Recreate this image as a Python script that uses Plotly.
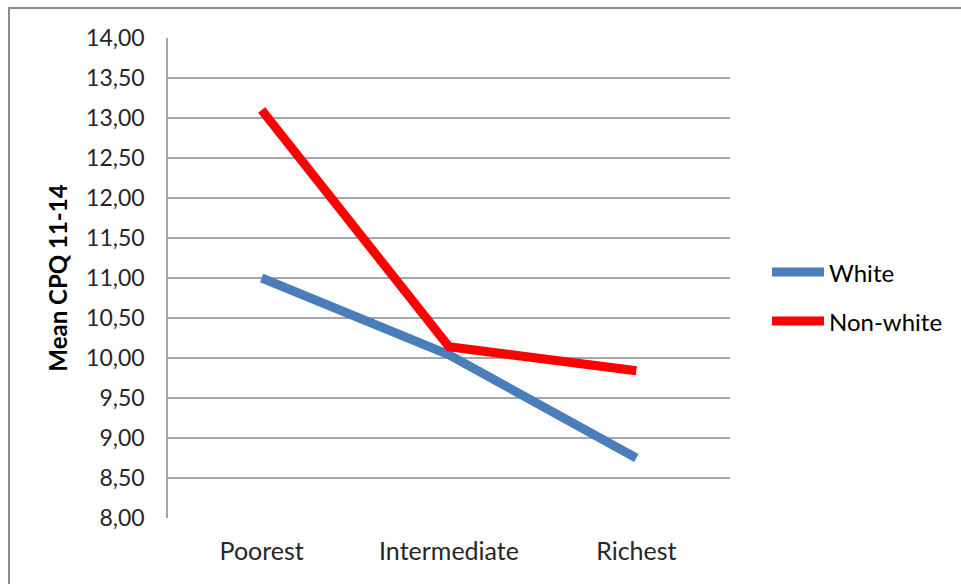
import plotly.graph_objects as go

categories = ["Poorest", "Intermediate", "Richest"]
white = [11.00, 10.04, 8.75]
non_white = [13.10, 10.14, 9.84]
y_ticks = [8.0, 8.5, 9.0, 9.5, 10.0, 10.5, 11.0, 11.5, 12.0, 12.5, 13.0, 13.5, 14.0]
series_names = ["White", "Non-white"]
series_colors = ["#4A7EBB", "#FF0000"]

W, H = 961, 584
L, R, T, B = 168, 730, 38, 518

def px(x):
    return (x - L) / (R - L)

def py(y):
    return (B - y) / (B - T)

FONT = "Lato, 'Open Sans', sans-serif"

fig = go.Figure()
for name, vals, col in zip(series_names, [white, non_white], series_colors):
    fig.add_trace(go.Scatter(x=categories, y=vals, mode="lines", name=name,
                             line=dict(color=col, width=9), showlegend=False))

# legend (drawn manually for the long Excel-style line samples)
legend_y = [272, 321]
shapes = [dict(type="rect", xref="paper", yref="paper",
               x0=px(9), y0=py(620), x1=px(1000), y1=py(8),
               line=dict(color="#8C8C8C", width=2), layer="below")]
annotations = []
for name, col, ly in zip(series_names, series_colors, legend_y):
    shapes.append(dict(type="line", xref="paper", yref="paper",
                       x0=px(772), x1=px(824), y0=py(ly), y1=py(ly),
                       line=dict(color=col, width=9)))
    annotations.append(dict(text=name, xref="paper", yref="paper",
                            x=px(827), y=py(ly), xanchor="left", yanchor="middle",
                            showarrow=False, font=dict(size=24, color="#000000")))

fig.update_layout(
    width=W, height=H,
    margin=dict(l=L, r=W - R, t=T, b=H - B, autoexpand=False),
    paper_bgcolor="white", plot_bgcolor="white",
    separators=", ",
    font=dict(family=FONT, size=23, color="#262626"),
    showlegend=False,
    xaxis=dict(type="category", range=[-0.5, 2.5], showgrid=False,
               showline=False, zeroline=False, ticks="",
               ticklabelstandoff=16,
               tickfont=dict(size=25, color="#262626")),
    yaxis=dict(range=[8, 14], tickvals=y_ticks, tickformat=".2f",
               showgrid=True, gridcolor="#A6A6A6", gridwidth=1.5,
               showline=True, linecolor="#A6A6A6", linewidth=1.5,
               zeroline=False, ticks="", ticklabelstandoff=17,
               tickfont=dict(size=23, color="#262626"),
               title=dict(text="<b>Mean CPQ 11-14</b>", standoff=12,
                          font=dict(size=24, color="#000000"))),
    shapes=shapes,
    annotations=annotations,
)

fig.write_html("out.html")
